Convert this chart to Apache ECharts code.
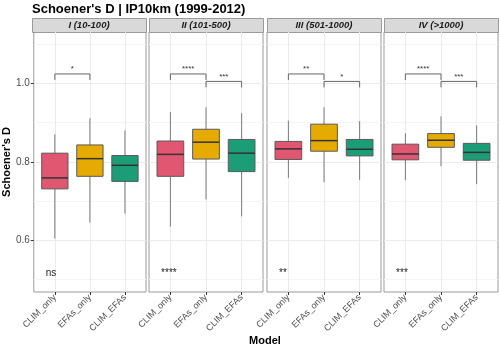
<!DOCTYPE html>
<html><head><meta charset="utf-8">
<script src="https://cdn.jsdelivr.net/npm/echarts@6/dist/echarts.min.js"></script>
<style>html,body{margin:0;padding:0;background:#fff}#c{width:500px;height:349px}</style>
</head><body><div id="c"></div>
<script>
const categories = ['CLIM_only', 'EFAs_only', 'CLIM_EFAs'];
const panelNames = ['I (10-100)', 'II (101-500)', 'III (501-1000)', 'IV (>1000)'];
const colors = ['#E15670', '#E6AB02', '#1B9E77'];
// each box: [lower whisker, Q1, median, Q3, upper whisker]
const panelI = [[0.604, 0.731, 0.759, 0.822, 0.870], [0.645, 0.763, 0.808, 0.843, 0.911], [0.668, 0.750, 0.791, 0.816, 0.880]];
const panelII = [[0.635, 0.763, 0.819, 0.853, 0.927], [0.704, 0.807, 0.850, 0.883, 0.939], [0.661, 0.775, 0.822, 0.857, 0.924]];
const panelIII = [[0.759, 0.806, 0.833, 0.852, 0.905], [0.748, 0.827, 0.854, 0.896, 0.939], [0.754, 0.815, 0.832, 0.857, 0.904]];
const panelIV = [[0.753, 0.805, 0.820, 0.845, 0.873], [0.789, 0.837, 0.855, 0.872, 0.916], [0.743, 0.804, 0.824, 0.847, 0.893]];
// pairwise comparisons: [from category, to category, bracket height, label]
const bracketsI = [[1, 2, 1.024, '*']];
const bracketsII = [[1, 2, 1.024, '****'], [2, 3, 1.005, '***']];
const bracketsIII = [[1, 2, 1.024, '**'], [2, 3, 1.005, '*']];
const bracketsIV = [[1, 2, 1.024, '****'], [2, 3, 1.005, '***']];
const overallLabels = ['ns', '****', '**', '***'];
const yTicks = [0.6, 0.8, 1.0];
const yMinorTicks = [0.5, 0.7, 0.9, 1.1];
const yMin = 0.468, yMax = 1.131;
const overallLabelY = 0.517;
const overallLabelX = 0.74;

const panels = [panelI, panelII, panelIII, panelIV];
const brackets = [bracketsI, bracketsII, bracketsIII, bracketsIV];
const FONT = 'Liberation Sans, Arial, sans-serif';
const gridLefts = [32, 149, 267, 384];
const gridW = 114, gridTop = 32, gridH = 260;

const grid = [], xAxis = [], yAxis = [], series = [], graphic = [];
panels.forEach((p, k) => {
  grid.push({left: gridLefts[k], top: gridTop, width: gridW, height: gridH, show: true, borderColor: '#9a9a9a', borderWidth: 1, backgroundColor: '#fff'});
  xAxis.push({
    type: 'value', gridIndex: k, min: 0.4, max: 3.6,
    axisLine: {show: false},
    axisTick: {show: true, customValues: [1, 2, 3], length: 3, lineStyle: {color: '#333'}},
    axisLabel: {customValues: [1, 2, 3], formatter: v => categories[Math.round(v) - 1], rotate: 45, fontSize: 9, color: '#4d4d4d', fontFamily: FONT, margin: 4},
    splitLine: {show: true, lineStyle: {color: '#ebebeb', width: 1}}
  });
  yAxis.push({
    type: 'value', gridIndex: k, min: yMin, max: yMax,
    axisLine: {show: false},
    axisTick: {show: k === 0, customValues: yTicks, length: 3, lineStyle: {color: '#333'}},
    axisLabel: {show: k === 0, customValues: yTicks, formatter: v => v.toFixed(1), fontSize: 10, color: '#4d4d4d', fontFamily: FONT, margin: 4},
    splitLine: {show: true, lineStyle: {color: '#ebebeb', width: 1}},
    name: k === 0 ? "Schoener's D" : '', nameLocation: 'middle', nameGap: 20, nameRotate: 90,
    nameTextStyle: {fontSize: 11, fontWeight: 'bold', color: '#000', fontFamily: FONT}
  });
  yAxis.push({
    type: 'value', gridIndex: k, min: yMin, max: yMax,
    axisLine: {show: false},
    axisTick: {show: false, customValues: yMinorTicks},
    axisLabel: {show: false, customValues: yMinorTicks},
    splitLine: {show: true, lineStyle: {color: '#f5f5f5', width: 1}}
  });
  // boxes
  series.push({
    type: 'custom', xAxisIndex: k, yAxisIndex: 2 * k,
    data: p.map((s, i) => [i + 1].concat(s).concat([i])),
    encode: {x: 0, y: [1, 2, 3, 4, 5]},
    renderItem: (params, api) => {
      const x = api.value(0);
      const ci = api.value(6);
      const w = api.size([0.75, 0])[0];
      const pLo = api.coord([x, api.value(1)]);
      const pQ1 = api.coord([x, api.value(2)]);
      const pMed = api.coord([x, api.value(3)]);
      const pQ3 = api.coord([x, api.value(4)]);
      const pHi = api.coord([x, api.value(5)]);
      return {type: 'group', children: [
        {type: 'line', shape: {x1: pLo[0], y1: pLo[1], x2: pQ1[0], y2: pQ1[1]}, style: {stroke: '#7a7a7a', lineWidth: 1}},
        {type: 'line', shape: {x1: pQ3[0], y1: pQ3[1], x2: pHi[0], y2: pHi[1]}, style: {stroke: '#7a7a7a', lineWidth: 1}},
        {type: 'rect', shape: {x: pQ3[0] - w / 2, y: pQ3[1], width: w, height: pQ1[1] - pQ3[1]}, style: {fill: colors[ci], stroke: '#5a5a5a', lineWidth: 1}},
        {type: 'line', shape: {x1: pMed[0] - w / 2, y1: pMed[1], x2: pMed[0] + w / 2, y2: pMed[1]}, style: {stroke: '#333', lineWidth: 1.5}}
      ]};
    }
  });
  // brackets
  series.push({
    type: 'custom', xAxisIndex: k, yAxisIndex: 2 * k,
    data: brackets[k].map(b => [b[0], b[1], b[2], b[3]]),
    encode: {x: [0, 1], y: 2},
    renderItem: (params, api) => {
      const b = brackets[k][params.dataIndex];
      const a = api.coord([b[0], b[2]]);
      const c = api.coord([b[1], b[2]]);
      const tip = 6;
      return {type: 'group', children: [
        {type: 'polyline', shape: {points: [[a[0], a[1] + tip], [a[0], a[1]], [c[0], c[1]], [c[0], c[1] + tip]]}, style: {stroke: '#666', lineWidth: 1, fill: 'none'}},
        {type: 'text', x: (a[0] + c[0]) / 2, y: a[1] - 1, style: {text: b[3], fontSize: 8, fill: '#333', align: 'center', verticalAlign: 'bottom', fontFamily: FONT}}
      ]};
    }
  });
  // overall test label
  series.push({
    type: 'custom', xAxisIndex: k, yAxisIndex: 2 * k,
    data: [[overallLabelX, overallLabelY]],
    renderItem: (params, api) => {
      const pt = api.coord([api.value(0), api.value(1)]);
      return {type: 'text', x: pt[0], y: pt[1], style: {text: overallLabels[k], fontSize: 10, fill: '#222', align: 'left', verticalAlign: 'middle', fontFamily: FONT}};
    }
  });
  // strip
  graphic.push({type: 'rect', left: gridLefts[k], top: 18, shape: {width: gridW, height: 14}, style: {fill: '#d9d9d9', stroke: '#9a9a9a', lineWidth: 1}});
  graphic.push({type: 'text', x: gridLefts[k] + gridW / 2, y: 25, style: {text: panelNames[k], fontSize: 9.5, fontWeight: 'bold', fontStyle: 'italic', fill: '#1a1a1a', align: 'center', verticalAlign: 'middle', fontFamily: FONT}});
});
graphic.push({type: 'text', x: 32, y: 9, style: {text: "Schoener's D | IP10km (1999-2012)", fontSize: 13, fontWeight: 'bold', fill: '#000', align: 'left', verticalAlign: 'middle', fontFamily: FONT}});
graphic.push({type: 'text', x: 265, y: 341, style: {text: 'Model', fontSize: 11, fontWeight: 'bold', fill: '#000', align: 'center', verticalAlign: 'middle', fontFamily: FONT}});

const chart = echarts.init(document.getElementById('c'), null, {renderer: 'canvas'});
chart.setOption({animation: false, backgroundColor: '#fff', grid, xAxis, yAxis, series, graphic});
</script></body></html>
